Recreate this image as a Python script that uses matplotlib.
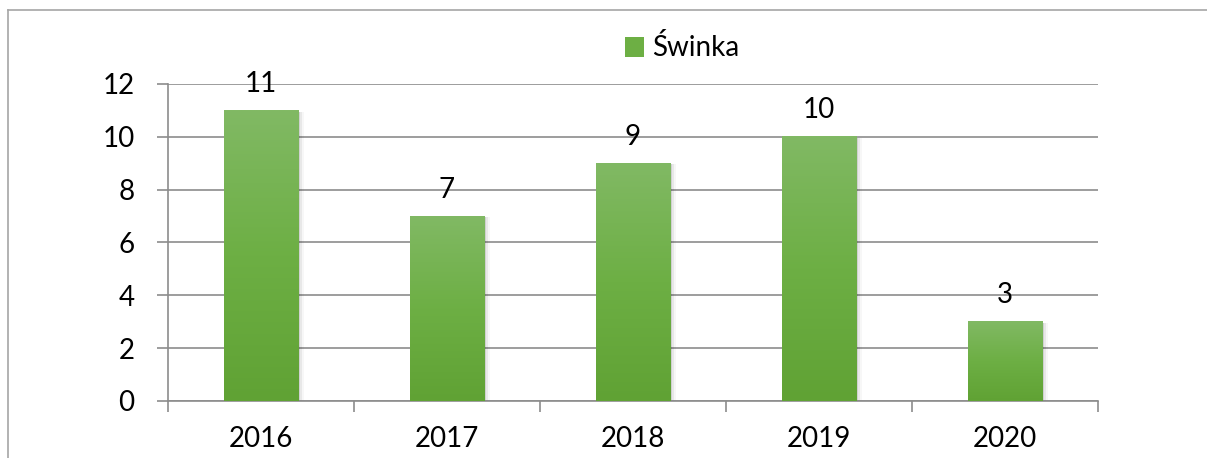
import numpy as np
import matplotlib.pyplot as plt
from matplotlib.colors import LinearSegmentedColormap
from matplotlib.patches import Rectangle
from matplotlib.lines import Line2D

# Data
years = ["2016", "2017", "2018", "2019", "2020"]
values = [11, 7, 9, 10, 3]
series_name = "Świnka"
y_ticks = [0, 2, 4, 6, 8, 10, 12]

plt.rcParams["font.family"] = ["Lato", "DejaVu Sans"]

fig = plt.figure(figsize=(12.07, 4.58), dpi=100)
ax = fig.add_axes([0.1392, 0.1245, 0.7705, 0.6921])

# outer chart frame (only top and left edges are visible)
fig.add_artist(Line2D([8 / 1207, 8 / 1207], [0, 1 - 10 / 458],
                      transform=fig.transFigure, color="#a6a6a6", linewidth=1.2))
fig.add_artist(Line2D([8 / 1207, 1], [1 - 10 / 458, 1 - 10 / 458],
                      transform=fig.transFigure, color="#a6a6a6", linewidth=1.2))

green_cmap = LinearSegmentedColormap.from_list(
    "bar_green", [(0.0, "#60a234"), (0.5, "#6daf44"), (1.0, "#81b964")]
)
gradient = np.linspace(0, 1, 256).reshape(-1, 1)

bar_width = 0.40
x = np.arange(len(years))

for xi, val in zip(x, values):
    x0 = xi - bar_width / 2
    x1 = xi + bar_width / 2
    # soft shadow
    for k, a in [(0.012, 0.10), (0.024, 0.06), (0.036, 0.03)]:
        ax.add_patch(Rectangle((x0 + k * 0.3, -0.04 - k), bar_width + k * 0.6, val + k * 0.8,
                               facecolor="black", edgecolor="none", alpha=a, zorder=2))
    ax.imshow(gradient, cmap=green_cmap, origin="lower", aspect="auto",
              extent=(x0, x1, 0, val), zorder=3, interpolation="bilinear")
    ax.text(xi, val + 1.0, str(val), ha="center", va="center",
            fontsize=20, color="black", zorder=4)

ax.set_xlim(-0.5, len(years) - 0.5)
ax.set_ylim(0, 12)

ax.set_yticks(y_ticks)
ax.set_yticklabels([str(t) for t in y_ticks], fontsize=20)
ax.grid(axis="y", color="#8c8c8c", linewidth=1.2, zorder=0)
ax.set_axisbelow(True)

# category boundaries as major ticks, labels at centers
ax.set_xticks(np.arange(len(years) + 1) - 0.5)
ax.set_xticklabels([])
ax.set_xticks(x, minor=True)
ax.set_xticklabels(years, minor=True, fontsize=20)
ax.tick_params(axis="x", which="minor", length=0, pad=18)
ax.tick_params(axis="x", which="major", length=8, color="#8c8c8c", width=1.2)
ax.tick_params(axis="y", length=8, color="#8c8c8c", width=1.2, pad=16)

for side in ["top", "right"]:
    ax.spines[side].set_visible(False)
for side in ["left", "bottom"]:
    ax.spines[side].set_color("#8c8c8c")
    ax.spines[side].set_linewidth(1.2)

# legend
handle = Rectangle((0, 0), 1, 1, facecolor="#6daf44", edgecolor="none")
fig.legend([handle], [series_name], loc="center", bbox_to_anchor=(0.565, 1 - 48 / 458),
           frameon=False, fontsize=20, handlelength=0.7, handleheight=0.7,
           handletextpad=0.3)

plt.savefig("out.png", dpi=100)
plt.close()
